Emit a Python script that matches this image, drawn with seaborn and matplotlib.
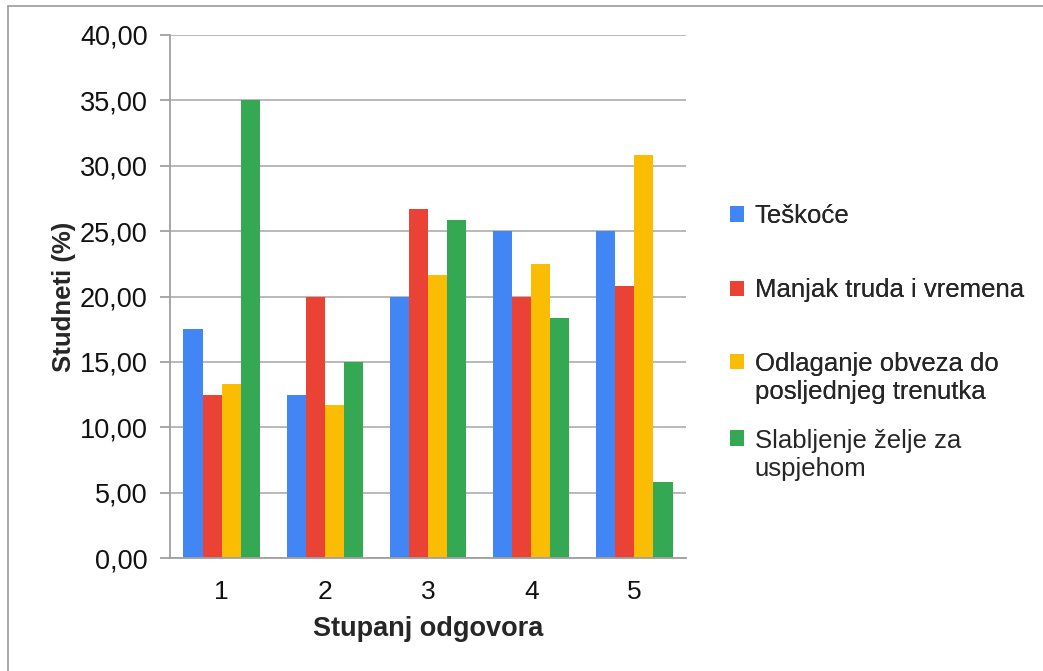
import matplotlib
matplotlib.use("Agg")
import matplotlib.pyplot as plt
import seaborn as sns
import pandas as pd
from matplotlib.ticker import FuncFormatter, MultipleLocator
from matplotlib.patches import Patch, Rectangle
from matplotlib.legend_handler import HandlerBase

categories = ["1", "2", "3", "4", "5"]
series = ["Teškoće", "Manjak truda i vremena",
          "Odlaganje obveza do\nposljednjeg trenutka",
          "Slabljenje želje za\nuspjehom"]
teskoce = [17.50, 12.50, 20.00, 25.00, 25.00]
manjak = [12.50, 20.00, 26.67, 20.00, 20.83]
odlaganje = [13.33, 11.67, 21.67, 22.50, 30.83]
slabljenje = [35.00, 15.00, 25.83, 18.33, 5.83]
colors = ["#4285F4", "#EA4335", "#FBBC04", "#34A853"]

rows = []
for name, vals in zip(series, [teskoce, manjak, odlaganje, slabljenje]):
    for c, v in zip(categories, vals):
        rows.append({"cat": c, "series": name, "val": v})
df = pd.DataFrame(rows)

sns.set_style("white")
plt.rcParams['font.family'] = ['Liberation Sans', 'DejaVu Sans']

fig = plt.figure(figsize=(10.43, 6.71), dpi=100)
ax = fig.add_axes([170/1043, 1-558/671, (686-170)/1043, (558-35)/671])

sns.barplot(data=df, x="cat", y="val", hue="series", order=categories,
            hue_order=series, palette=colors, saturation=1, width=0.74,
            ax=ax, legend=False, linewidth=0)

ax.set_ylim(0, 40)
ax.set_xlim(-0.5, 4.5)
ax.yaxis.set_major_locator(MultipleLocator(5))
ax.yaxis.set_major_formatter(FuncFormatter(lambda v, p: f"{v:.2f}".replace(".", ",")))
ax.grid(axis="y", color="#b3b3b3", linewidth=1.3)
ax.set_axisbelow(True)
for s in ["top", "right"]:
    ax.spines[s].set_visible(False)
ax.spines["left"].set_color("#a0a0a0")
ax.spines["bottom"].set_color("#a0a0a0")
ax.spines["left"].set_linewidth(1.3)
ax.spines["bottom"].set_linewidth(1.3)
ax.tick_params(axis="y", left=True, length=7, color="#a0a0a0", width=1.3,
               labelsize=19.5, pad=9, labelcolor="#111111")
ax.tick_params(axis="x", bottom=False, labelsize=19, pad=12, labelcolor="#111111")
ax.set_ylabel("Studneti (%)", fontsize=18.5, fontweight="bold", labelpad=3)
ax.set_xlabel("Stupanj odgovora", fontsize=19.5, fontweight="bold", labelpad=9)


class TopSquare(HandlerBase):
    """Square handle aligned with the first line of a (possibly multi-line) label."""
    def __init__(self, nlines=1, **kw):
        super().__init__(**kw)
        self.nlines = nlines

    def create_artists(self, legend, orig_handle, xdescent, ydescent,
                       width, height, fontsize, trans):
        shift = (self.nlines - 1) * fontsize * 0.68
        r = Rectangle((-xdescent, -ydescent + shift), width, height,
                      facecolor=orig_handle.get_facecolor(), edgecolor="none",
                      transform=trans)
        return [r]


handles = [Patch(facecolor=c, edgecolor="none") for c in colors]
hmap = {h: TopSquare(nlines=lab.count("\n") + 1) for h, lab in zip(handles, series)}
common = dict(loc="upper left", frameon=False, fontsize=18.5, handlelength=0.55,
              handleheight=0.55, handletextpad=0.4, labelspacing=1.95,
              borderaxespad=0, handler_map=hmap)
leg1 = fig.legend(handles[:3], series[:3], bbox_to_anchor=(720/1043, 1-194/671), **common)
leg2 = fig.legend(handles[3:], series[3:], bbox_to_anchor=(720/1043, 1-419/671), **common)
fig.add_artist(leg1)

fig.add_artist(plt.Line2D([8/1043, 8/1043], [0, 1-6/671], color="#9a9a9a", linewidth=1.2))
fig.add_artist(plt.Line2D([8/1043, 1], [1-6/671, 1-6/671], color="#9a9a9a", linewidth=1.2))

fig.savefig("out.png", dpi=100)
